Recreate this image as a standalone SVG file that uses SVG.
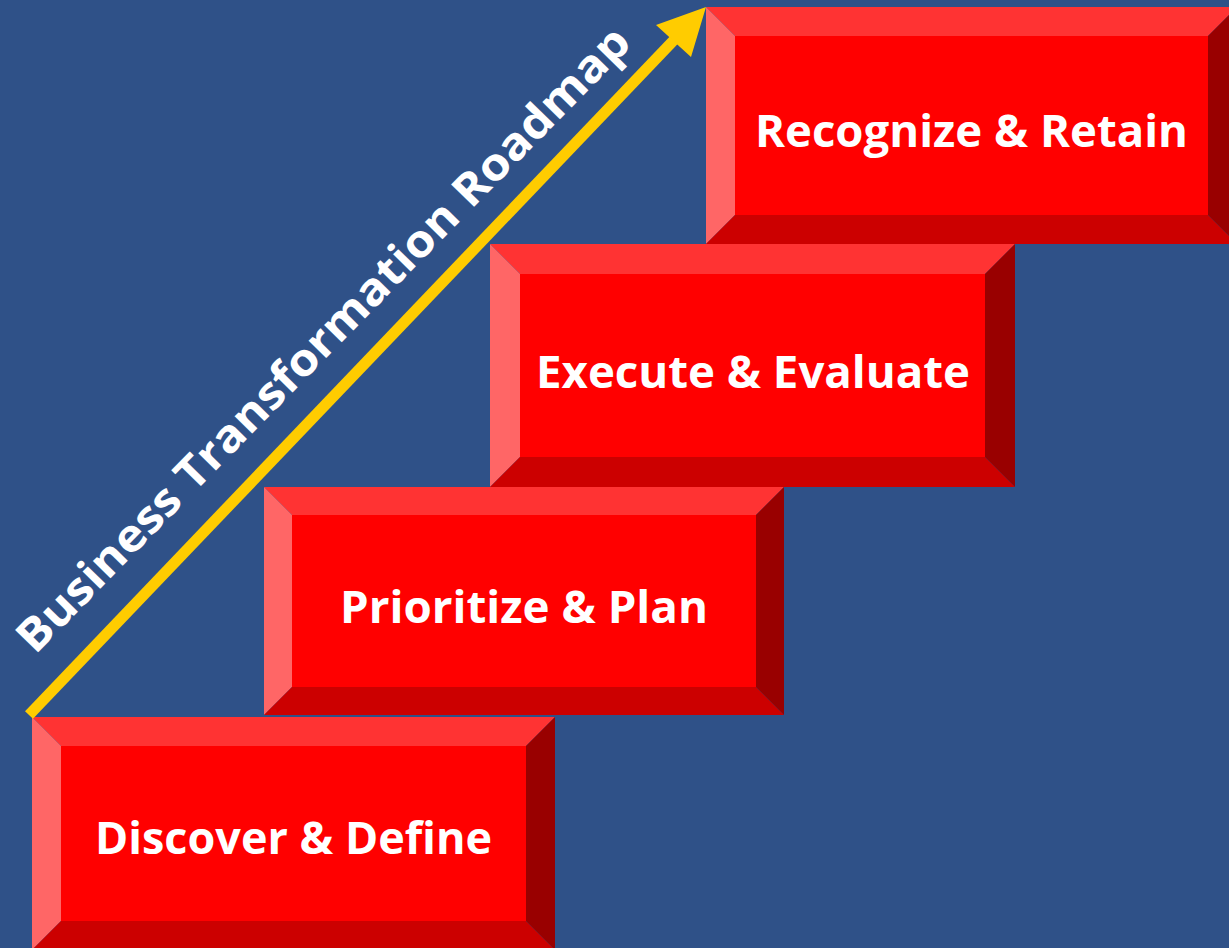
<svg xmlns="http://www.w3.org/2000/svg" width="1229" height="948" viewBox="0 0 1229 948">
<style>
.top{fill:#FF3333}.lft{fill:#FF6666}.bot{fill:#CC0000}.rgt{fill:#990000}.mid{fill:#FF0000}
.lbl{font-family:"Open Sans","Noto Sans",sans-serif;font-weight:bold;font-size:44px;fill:#FFFFFF;text-anchor:middle}
.road{font-family:"Open Sans","Noto Sans",sans-serif;font-weight:bold;font-size:45px;fill:#FFFFFF;text-anchor:middle}
</style>
<rect x="0" y="0" width="1229" height="948" fill="#2F5188"/>
<g id="step1">
<polygon class="top" points="32,717 555,717 526,746 61,746"/>
<polygon class="lft" points="32,717 61,746 61,921 32,950"/>
<polygon class="bot" points="32,950 61,921 526,921 555,950"/>
<polygon class="rgt" points="555,717 555,950 526,921 526,746"/>
<rect class="mid" x="61" y="746" width="465" height="175"/>
<text class="lbl" x="293.5" y="854" textLength="397" lengthAdjust="spacingAndGlyphs">Discover &amp; Define</text>
</g>
<g id="step2">
<polygon class="top" points="264,487 784,487 756,515 292,515"/>
<polygon class="lft" points="264,487 292,515 292,687 264,715"/>
<polygon class="bot" points="264,715 292,687 756,687 784,715"/>
<polygon class="rgt" points="784,487 784,715 756,687 756,515"/>
<rect class="mid" x="292" y="515" width="464" height="172"/>
<text class="lbl" x="524" y="623" textLength="368" lengthAdjust="spacingAndGlyphs">Prioritize &amp; Plan</text>
</g>
<g id="step3">
<polygon class="top" points="490,244 1015,244 985,274 520,274"/>
<polygon class="lft" points="490,244 520,274 520,457 490,487"/>
<polygon class="bot" points="490,487 520,457 985,457 1015,487"/>
<polygon class="rgt" points="1015,244 1015,487 985,457 985,274"/>
<rect class="mid" x="520" y="274" width="465" height="183"/>
<text class="lbl" x="753" y="388" textLength="434" lengthAdjust="spacingAndGlyphs">Execute &amp; Evaluate</text>
</g>
<g id="step4">
<polygon class="top" points="706,7 1237,7 1208,36 735,36"/>
<polygon class="lft" points="706,7 735,36 735,215 706,244"/>
<polygon class="bot" points="706,244 735,215 1208,215 1237,244"/>
<polygon class="rgt" points="1237,7 1237,244 1208,215 1208,36"/>
<rect class="mid" x="735" y="36" width="473" height="179"/>
<text class="lbl" x="971.5" y="147" textLength="433" lengthAdjust="spacingAndGlyphs">Recognize &amp; Retain</text>
</g>
<g id="connectors">
<line x1="29" y1="715" x2="674" y2="40" stroke="#FFCC00" stroke-width="11"/>
<polygon points="706,7 656,25 667,35 680,47 691,57" fill="#FFCC00"/>
</g>
<g id="roadmap-label">
<text class="road" transform="translate(334,350) rotate(-45.6)" x="0" y="0" textLength="855" lengthAdjust="spacingAndGlyphs">Business Transformation Roadmap</text>
</g>
</svg>
